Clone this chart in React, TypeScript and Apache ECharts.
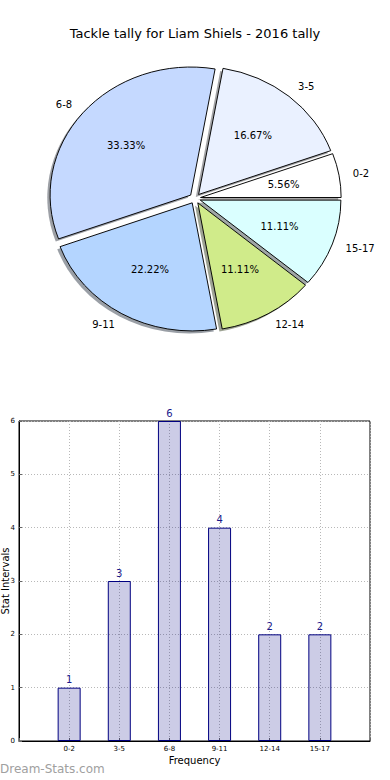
import React, { useEffect, useRef } from "react";
import * as echarts from "echarts";

const categories: string[] = ["0-2", "3-5", "6-8", "9-11", "12-14", "15-17"];
const tallies: number[] = [1, 3, 6, 4, 2, 2];
const pieColors: string[] = ["#ffffff", "#eaf1ff", "#c5d9ff", "#b4d5ff", "#d0eb8a", "#daffff"];
const yTicks: number[] = [0, 1, 2, 3, 4, 5, 6];

const TITLE = "Tackle tally for Liam Shiels - 2016 tally";
const FONT = "DejaVu Sans";

// pie geometry (matplotlib-like elliptical pie)
const PIE_CX = 195;
const PIE_CY = 198.4;
const RX = 140.6;
const RY = 128.1;
const EXPLODE = 0.04;

function hexToRgb(h: string): [number, number, number] {
  const n = parseInt(h.slice(1), 16);
  return [(n >> 16) & 255, (n >> 8) & 255, n & 255];
}

export default function App() {
  const ref = useRef<HTMLDivElement>(null);
  useEffect(() => {
    document.body.style.margin = "0";
    if (!ref.current) return;
    const chart = echarts.init(ref.current, undefined, { renderer: "svg" });
    const total = tallies.reduce((a, b) => a + b, 0);
    const starts: number[] = [];
    let acc = 0;
    tallies.forEach((v) => {
      starts.push(acc);
      acc += v;
    });

    const option: any = {
      animation: false,
      backgroundColor: "#ffffff",
      title: {
        text: TITLE,
        left: "center",
        top: 22,
        textStyle: { fontFamily: FONT, fontSize: 13, fontWeight: "normal", color: "#000" },
      },
      grid: {
        left: 19,
        top: 421,
        width: 351,
        height: 320,
        show: true,
        borderColor: "#000",
        borderWidth: 1,
        backgroundColor: "transparent",
        containLabel: false,
        outerBoundsMode: "none",
      },
      xAxis: {
        type: "value",
        min: -1,
        max: 6,
        interval: 1,
        name: "Frequency",
        nameLocation: "middle",
        nameGap: 14,
        nameMoveOverlap: false,
        nameTextStyle: { fontFamily: FONT, fontSize: 10, color: "#000" },
        axisLine: { show: true, onZero: false, lineStyle: { color: "#000" } },
        axisTick: { show: true, inside: true, length: 3, lineStyle: { color: "#666" } },
        axisLabel: {
          fontFamily: FONT,
          fontSize: 7,
          color: "#000",
          margin: 4,
          formatter: (v: number) => (categories[v] !== undefined ? categories[v] : ""),
        },
        splitLine: { show: true, lineStyle: { color: "#b8b8b8", type: [1, 2], width: 1 } },
      },
      yAxis: {
        type: "value",
        min: 0,
        max: 6,
        interval: 1,
        name: "Stat Intervals",
        nameLocation: "middle",
        nameGap: 9,
        nameMoveOverlap: false,
        nameTextStyle: { fontFamily: FONT, fontSize: 10, color: "#000" },
        axisLine: { show: true, onZero: false, lineStyle: { color: "#000" } },
        axisTick: { show: true, inside: true, length: 3, lineStyle: { color: "#666" } },
        axisLabel: {
          fontFamily: FONT,
          fontSize: 7,
          color: "#000",
          margin: 4,
          formatter: (v: number) => (yTicks.includes(v) ? String(v) : ""),
        },
        splitLine: { show: true, lineStyle: { color: "#b8b8b8", type: [1, 2], width: 1 } },
      },
      series: [
        {
          type: "bar",
          data: categories.map((c, i) => [i, tallies[i]]),
          barWidth: 23,
          itemStyle: {
            color: "rgba(0,0,128,0.2)",
            borderColor: "#000080",
            borderWidth: 1,
          },
          label: {
            show: true,
            position: "top",
            distance: 3,
            fontFamily: FONT,
            fontSize: 10,
            color: "#1a1a8c",
            formatter: (p: any) => String(p.value[1]),
          },
          z: 1,
        },
        {
          type: "custom",
          coordinateSystem: "none",
          data: tallies.map((v, i) => ({ value: v, name: categories[i] })),
          renderItem: (params: any, api: any) => {
            const i = params.dataIndex;
            const v = api.value(0);
            const a1 = (starts[i] / total) * Math.PI * 2;
            const a2 = a1 + (v / total) * Math.PI * 2;
            const mid = (a1 + a2) / 2;
            const c = Math.cos(mid);
            const s = Math.sin(mid);
            const ox = PIE_CX + EXPLODE * RX * c;
            const oy = PIE_CY - EXPLODE * RY * s;
            const [r, g, b] = hexToRgb(pieColors[i]);
            const shape = { cx: 0, cy: 0, r0: 0, r: RX, startAngle: -a2, endAngle: -a1, clockwise: true };
            return {
              type: "group",
              children: [
                {
                  type: "sector",
                  x: ox - 0.02 * RX,
                  y: oy + 0.02 * RY,
                  scaleY: RY / RX,
                  shape,
                  z2: 0,
                  style: {
                    fill: `rgba(${Math.round(r * 0.3)},${Math.round(g * 0.3)},${Math.round(b * 0.3)},0.5)`,
                    stroke: "none",
                  },
                },
                {
                  type: "sector",
                  x: ox,
                  y: oy,
                  scaleY: RY / RX,
                  shape,
                  z2: 10,
                  style: { fill: pieColors[i], stroke: "#000", lineWidth: 1 },
                },
                {
                  type: "text",
                  x: ox + 1.1 * RX * c,
                  y: oy - 1.1 * RY * s,
                  z2: 20,
                  style: {
                    text: categories[i],
                    fontFamily: FONT,
                    fontSize: 10,
                    fill: "#000",
                    align: c >= 0 ? "left" : "right",
                    verticalAlign: "middle",
                  },
                },
                {
                  type: "text",
                  x: ox + 0.6 * RX * c,
                  y: oy - 0.6 * RY * s,
                  z2: 20,
                  style: {
                    text: ((v / total) * 100).toFixed(2) + "%",
                    fontFamily: FONT,
                    fontSize: 10,
                    fill: "#000",
                    align: "center",
                    verticalAlign: "middle",
                  },
                },
              ],
            };
          },
        },
      ],
      graphic: [
        {
          type: "text",
          left: 0,
          top: 763,
          style: {
            text: "Dream-Stats.com",
            fontFamily: FONT,
            fontSize: 12,
            fontWeight: "normal",
            fill: "#a0a0a0",
          },
        },
      ],
    };
    chart.setOption(option);
    return () => chart.dispose();
  }, []);
  return <div ref={ref} style={{ position: "absolute", left: 0, top: 0, width: 390, height: 780 }} />;
}
